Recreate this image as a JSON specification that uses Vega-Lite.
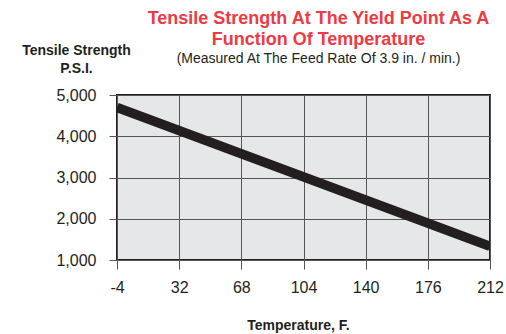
{
  "$schema": "https://vega.github.io/schema/vega-lite/v6.json",
  "width": 373,
  "height": 165,
  "autosize": "none",
  "padding": {"left": 117, "top": 95, "right": 16, "bottom": 74},
  "background": "white",
  "title": {
    "text": ["Tensile Strength At The Yield Point As A", "Function Of Temperature"],
    "subtitle": "(Measured At The Feed Rate Of 3.9 in. / min.)",
    "anchor": "middle",
    "frame": "group",
    "dx": 15,
    "dy": 27,
    "offset": 4,
    "font": "Liberation Sans",
    "fontSize": 18,
    "fontWeight": "bold",
    "color": "#ee3a43",
    "lineHeight": 21,
    "subtitleFont": "Liberation Sans",
    "subtitleFontSize": 14,
    "subtitleColor": "#231f20",
    "subtitlePadding": 3
  },
  "data": {
    "values": [
      {"temp": -4, "psi": 4700},
      {"temp": 212, "psi": 1330}
    ]
  },
  "mark": {"type": "line", "color": "#231f20", "strokeWidth": 9.5, "clip": true, "strokeCap": "butt"},
  "encoding": {
    "x": {
      "field": "temp",
      "type": "quantitative",
      "scale": {"domain": [-4, 212], "nice": false, "zero": false},
      "axis": {
        "values": [-4, 32, 68, 104, 140, 176, 212],
        "labelExpr": "datum.value < 0 ? '-' + abs(datum.value) : datum.label",
        "title": "Temperature, F.",
        "titleFont": "Liberation Sans",
        "titleFontSize": 14,
        "titleFontWeight": "bold",
        "titleColor": "#231f20",
        "titlePadding": 23,
        "titleX": 181,
        "labelFont": "Liberation Sans",
        "labelFontSize": 16,
        "labelColor": "#231f20",
        "labelPadding": 10,
        "tickSize": 9,
        "tickColor": "#555555",
        "domain": false,
        "grid": true,
        "gridColor": "#555555",
        "gridWidth": 1,
        "labelFlush": false
      }
    },
    "y": {
      "field": "psi",
      "type": "quantitative",
      "scale": {"domain": [1000, 5000], "nice": false, "zero": false},
      "axis": {
        "values": [1000, 2000, 3000, 4000, 5000],
        "format": ",d",
        "title": ["Tensile Strength", "P.S.I."],
        "titleFont": "Liberation Sans",
        "titleFontSize": 14,
        "titleFontWeight": "bold",
        "titleColor": "#231f20",
        "titleAngle": 0,
        "titleAlign": "center",
        "titleBaseline": "alphabetic",
        "titleX": -41,
        "titleY": -41,
        "titleLineHeight": 18,
        "labelFont": "Liberation Sans",
        "labelFontSize": 16,
        "labelColor": "#231f20",
        "labelPadding": 13,
        "tickSize": 8,
        "tickColor": "#555555",
        "domain": false,
        "grid": true,
        "gridColor": "#555555",
        "gridWidth": 1,
        "labelFlush": false
      }
    }
  },
  "config": {
    "view": {"fill": "#e6e7e8", "stroke": "#231f20", "strokeWidth": 2}
  }
}
